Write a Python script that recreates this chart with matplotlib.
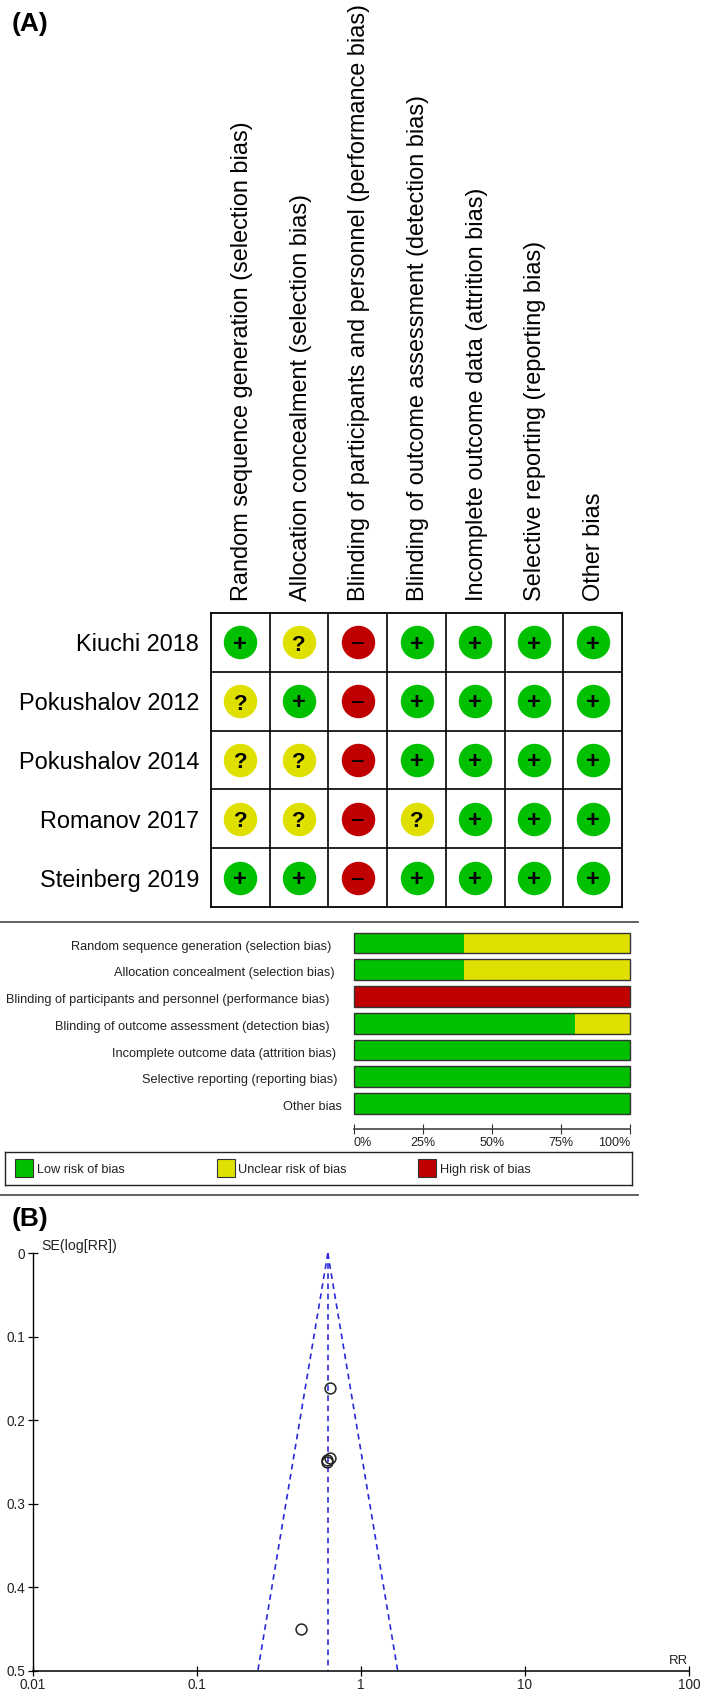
import matplotlib
matplotlib.use('Agg')
import matplotlib.pyplot as plt
from matplotlib.lines import Line2D
from matplotlib.patches import Rectangle

plt.rcParams['font.family'] = ['Liberation Sans', 'DejaVu Sans']

# Risk of bias data
domains = ['Random sequence generation (selection bias)',
           'Allocation concealment (selection bias)',
           'Blinding of participants and personnel (performance bias)',
           'Blinding of outcome assessment (detection bias)',
           'Incomplete outcome data (attrition bias)',
           'Selective reporting (reporting bias)',
           'Other bias']
studies = ['Kiuchi 2018', 'Pokushalov 2012', 'Pokushalov 2014', 'Romanov 2017', 'Steinberg 2019']
judgements = [['+', '?', '-', '+', '+', '+', '+'],
              ['?', '+', '-', '+', '+', '+', '+'],
              ['?', '?', '-', '+', '+', '+', '+'],
              ['?', '?', '-', '?', '+', '+', '+'],
              ['+', '+', '-', '+', '+', '+', '+']]

low_pct = [40, 40, 0, 80, 100, 100, 100]
unclear_pct = [60, 60, 0, 20, 0, 0, 0]
high_pct = [0, 0, 100, 0, 0, 0, 0]
pct_ticks = [0, 25, 50, 75, 100]
legend_labels = ['Low risk of bias', 'Unclear risk of bias', 'High risk of bias']

# Funnel plot data
rr_values = [0.65, 0.65, 0.62, 0.62, 0.43]
se_values = [0.161, 0.245, 0.247, 0.250, 0.450]
pooled_rr = 0.63
funnel_low = 0.236
funnel_high = 1.68
se_max = 0.5
rr_ticks = [0.01, 0.1, 1, 10, 100]
rr_tick_labels = ['0.01', '0.1', '1', '10', '100']
se_ticks = [0, 0.1, 0.2, 0.3, 0.4, 0.5]
se_tick_labels = ['0', '0.1', '0.2', '0.3', '0.4', '0.5']

GREEN = '#00C000'
YELLOW = '#E0E000'
RED = '#C00000'
colors = {'+': GREEN, '?': YELLOW, '-': RED}

W, H = 709, 1698
fig = plt.figure(figsize=(W / 100, H / 100), dpi=100, facecolor='white')


# Axes placed by pixel edges, measured from the top left of the picture
def px_axes(left, top, right, bottom):
    return fig.add_axes([left / W, 1 - bottom / H, (right - left) / W, (bottom - top) / H])


def fig_line(y):
    fig.add_artist(Line2D([0, 638 / W], [1 - y / H, 1 - y / H], color='#555555', lw=1.3))


# (A) summary grid
ax = px_axes(211, 613, 622, 907)
ax.set_xlim(0, 7)
ax.set_ylim(5, 0)
for r, row in enumerate(judgements):
    for c, j in enumerate(row):
        ax.scatter(c + 0.5, r + 0.5, s=580, color=colors[j], linewidths=0, zorder=2)
        if j == '-':
            ax.text(c + 0.5, r + 0.55, '\u2212', ha='center', va='center', fontsize=17, zorder=3)
        elif j == '+':
            ax.text(c + 0.5, r + 0.53, j, ha='center', va='center', fontsize=17, fontweight='bold', zorder=3)
        else:
            ax.text(c + 0.5, r + 0.55, j, ha='center', va='center', fontsize=16, fontweight='bold', zorder=3)
ax.vlines(range(1, 7), 0, 5, color='black', lw=1.2)
ax.hlines(range(1, 5), 0, 7, color='black', lw=1.2)
for s in ax.spines.values():
    s.set_linewidth(1.3)
ax.xaxis.tick_top()
ax.set_xticks([c + 0.526 for c in range(7)])
ax.set_xticklabels(domains, rotation=90, fontsize=16.95, ha='center', va='bottom')
ax.set_yticks([r + 0.5 for r in range(5)])
ax.set_yticklabels(studies, fontsize=16.9)
ax.tick_params(length=0, pad=8.8, axis='x')
ax.tick_params(length=0, pad=8.6, axis='y')

fig_line(922)
fig_line(1195)

# (A) summary bars
bar_h = 20.6 / 26.7
ax2 = px_axes(354, 932.7, 630, 1113.7)
ax2.set_xlim(0, 100)
ax2.set_ylim(6 + bar_h / 2, -bar_h / 2)
rows = list(range(7))
ax2.barh(rows, low_pct, height=bar_h, color=GREEN, linewidth=0)
ax2.barh(rows, unclear_pct, left=low_pct, height=bar_h, color=YELLOW, linewidth=0)
ax2.barh(rows, high_pct, left=[a + b for a, b in zip(low_pct, unclear_pct)], height=bar_h, color=RED, linewidth=0)
outline = ax2.barh(rows, [100] * 7, height=bar_h, fill=False, edgecolor='#333333', linewidth=1)
for p in outline:
    p.set_clip_on(False)
for s in ax2.spines.values():
    s.set_visible(False)
ax2.set_xticks([])
ax2.set_yticks([])
# the labels do not share one right edge in the original
label_ends = [331, 335, 330, 330, 336, 338, 342]
for r, (name, end) in enumerate(zip(domains, label_ends)):
    ax2.text((end - 354) / 276 * 100, r + 0.14, name, ha='right', va='center', fontsize=9.17, color='#222222',
             clip_on=False)

# percent axis
ax3 = px_axes(354, 1128, 630, 1129)
ax3.set_xlim(0, 100)
ax3.set_yticks([])
for name in ['left', 'right', 'top']:
    ax3.spines[name].set_visible(False)
ax3.spines['bottom'].set_position(('axes', 0.5))
ax3.spines['bottom'].set_color('#444444')
ax3.spines['bottom'].set_linewidth(1.2)
ax3.set_xticks(pct_ticks)
ax3.set_xticklabels([f'{p}%' for p in pct_ticks], fontsize=9, color='#222222')
ax3.tick_params(axis='x', direction='inout', length=6.5, width=0.8, color='#333333', pad=2.6)
labels = ax3.get_xticklabels()
labels[0].set_ha('left')
labels[-1].set_ha('right')

# legend box
ax4 = px_axes(5, 1152, 632, 1185)
ax4.set_xlim(5, 632)
ax4.set_ylim(1185, 1152)
ax4.set_xticks([])
ax4.set_yticks([])
for s in ax4.spines.values():
    s.set_linewidth(1)
    s.set_color('#222222')
for x0, col, lab in zip([15.3, 217, 418], [GREEN, YELLOW, RED], legend_labels):
    ax4.add_patch(Rectangle((x0, 1159), 18, 18, facecolor=col, edgecolor='#333333', lw=0.8))
    ax4.text(x0 + 21.5, 1170, lab, ha='left', va='center', fontsize=9.2, color='#222222')

# (B) funnel plot
ax5 = px_axes(32.5, 1253.3, 689, 1671)
ax5.set_xscale('log')
ax5.set_xlim(rr_ticks[0], rr_ticks[-1])
ax5.set_ylim(se_max, 0)
dash = (0, (3.4, 2.7))
ax5.plot([pooled_rr, pooled_rr], [0, se_max], color='#2A2AD8', lw=1.2, ls=dash)
ax5.plot([pooled_rr, funnel_low], [0, se_max], color='#2A2AD8', lw=1.2, ls=dash)
ax5.plot([pooled_rr, funnel_high], [0, se_max], color='#2A2AD8', lw=1.2, ls=dash)
ax5.plot(rr_values, se_values, 'o', mfc='none', mec='#222222', mew=1.1, ms=7.8, clip_on=False)
ax5.spines['top'].set_visible(False)
ax5.spines['right'].set_visible(False)
ax5.spines['left'].set_linewidth(1)
ax5.spines['bottom'].set_linewidth(1.1)
ax5.set_xticks(rr_ticks)
ax5.set_xticklabels(rr_tick_labels, fontsize=9.8, color='#222222')
ax5.minorticks_off()
ax5.set_yticks(se_ticks)
ax5.set_yticklabels(se_tick_labels, fontsize=9.8, color='#222222')
ax5.tick_params(direction='inout', length=6.5, width=0.9, pad=2)

# small axis captions and panel letters, in figure fractions
fig.text(41 / W, 1 - 1246 / H, 'SE(log[RR])', fontsize=10.2, ha='left', va='center', color='#222222')
fig.text(688 / W, 1 - 1661 / H, 'RR', fontsize=9.5, ha='right', va='center', color='#222222')
fig.text(12 / W, 1 - 24 / H, '(A)', fontsize=19, fontweight='bold', ha='left', va='center')
fig.text(12 / W, 1 - 1219 / H, '(B)', fontsize=19, fontweight='bold', ha='left', va='center')

fig.savefig('out.png', dpi=100, facecolor='white')
